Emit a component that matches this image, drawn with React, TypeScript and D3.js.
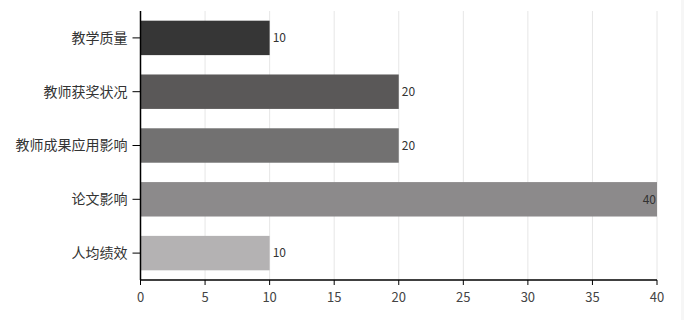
import React from "react";
import * as d3 from "d3";

const categories = ["教学质量", "教师获奖状况", "教师成果应用影响", "论文影响", "人均绩效"];
const values = [10, 20, 20, 40, 10];
const barColors = ["#363636", "#5a5858", "#727171", "#8c8a8b", "#b4b2b3"];
const xTicks = [0, 5, 10, 15, 20, 25, 30, 35, 40];

const W = 684;
const H = 320;
const left = 140.5;
const right = 657;
const top = 11;
const bottom = 280;

export default function App() {
  const x = d3.scaleLinear().domain([0, 40]).range([left, right]);
  const y = d3
    .scaleBand<string>()
    .domain(categories)
    .range([top, bottom])
    .paddingInner(0.36)
    .paddingOuter(0.18);
  const font = '"Noto Sans CJK SC", "Noto Sans", sans-serif';
  return (
    <svg
      width={W}
      height={H}
      style={{ position: "absolute", left: 0, top: 0, background: "#fff" }}
      fontFamily={font}
    >
      <rect x={681} y={0} width={3} height={H} fill="#f6f6f6" />
      {xTicks.slice(1).map((t) => (
        <line key={"g" + t} x1={x(t)} x2={x(t)} y1={top} y2={bottom} stroke="#e6e6e6" strokeWidth={1} />
      ))}
      {categories.map((c, i) => {
        const by = y(c)!;
        const bw = y.bandwidth();
        const xe = x(values[i]);
        const inside = values[i] === 40;
        return (
          <g key={c}>
            <rect x={x(0)} y={by} width={xe - x(0)} height={bw} fill={barColors[i]} />
            <text
              x={inside ? xe - 1 : xe + 3}
              y={by + bw / 2}
              dy="0.35em"
              fontSize={12}
              fill="#333"
              textAnchor={inside ? "end" : "start"}
            >
              {values[i]}
            </text>
            <line x1={left - 8} x2={left} y1={by + bw / 2} y2={by + bw / 2} stroke="#000" />
            <text x={left - 13} y={by + bw / 2} dy="0.35em" fontSize={14} fill="#333" textAnchor="end">
              {c}
            </text>
          </g>
        );
      })}
      <line x1={left} x2={left} y1={top} y2={bottom} stroke="#000" strokeWidth={1.5} />
      <line x1={left} x2={right} y1={bottom} y2={bottom} stroke="#000" strokeWidth={1.5} />
      {xTicks.map((t) => (
        <g key={"t" + t}>
          <line x1={x(t)} x2={x(t)} y1={bottom} y2={bottom + 5} stroke="#000" />
          <text x={x(t)} y={297} dy="0.35em" fontSize={13} fill="#444" textAnchor="middle">
            {t}
          </text>
        </g>
      ))}
    </svg>
  );
}
